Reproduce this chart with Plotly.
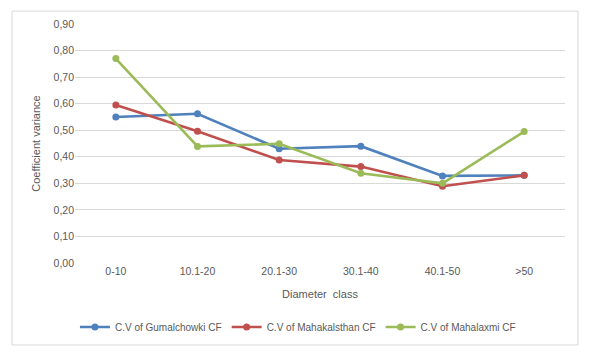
import plotly.graph_objects as go

categories = ["0-10", "10.1-20", "20.1-30", "30.1-40", "40.1-50", ">50"]
gumalchowki = [0.550, 0.562, 0.430, 0.440, 0.328, 0.330]
mahakalsthan = [0.595, 0.496, 0.388, 0.363, 0.289, 0.330]
mahalaxmi = [0.770, 0.439, 0.449, 0.338, 0.300, 0.495]
y_ticks = [0.0, 0.1, 0.2, 0.3, 0.4, 0.5, 0.6, 0.7, 0.8, 0.9]

series = [
    ("C.V of Gumalchowki CF", gumalchowki, "#4F81BD"),
    ("C.V of Mahakalsthan CF", mahakalsthan, "#C0504D"),
    ("C.V of Mahalaxmi CF", mahalaxmi, "#9BBB59"),
]

fig = go.Figure()
for name, vals, color in series:
    fig.add_trace(go.Scatter(
        x=categories, y=vals, name=name, mode="lines+markers",
        line=dict(color=color, width=2.6),
        marker=dict(color=color, size=7),
    ))

font_family = "Liberation Sans, Arial, sans-serif"
text_color = "#595959"

# page body has an 8px default margin; size the figure to compensate
fig.update_layout(
    width=581, height=349,
    margin=dict(l=67, r=24, t=16, b=94, autoexpand=False),
    paper_bgcolor="white", plot_bgcolor="white",
    separators=", ",
    font=dict(family=font_family, size=10.5, color=text_color),
    showlegend=True,
    legend=dict(orientation="h", x=0.455, xanchor="center", y=-0.268, yanchor="middle",
                font=dict(size=10, color=text_color), tracegroupgap=0, itemwidth=30),
    xaxis=dict(
        type="category", range=[-0.5, 5.5], automargin=False,
        showgrid=False, zeroline=False, showline=False,
        ticks="", tickfont=dict(size=10.5, color=text_color),
        title=dict(text="Diameter\u00a0 class", font=dict(size=11, color=text_color), standoff=14),
    ),
    yaxis=dict(
        range=[0, 0.9], tickvals=y_ticks, tickformat=".2f", automargin=False,
        showgrid=True, gridcolor="#D9D9D9", gridwidth=1,
        zeroline=False, showline=False, ticks="", ticklen=0,
        tickfont=dict(size=10.5, color=text_color),
        title=dict(text="Coefficient variance", font=dict(size=11, color=text_color), standoff=10),
    ),
)

fig.add_shape(type="rect", xref="paper", yref="paper",
              x0=-0.1286, x1=1.0265, y0=-0.343, y1=1.054,
              line=dict(color="#D9D9D9", width=1), fillcolor="rgba(0,0,0,0)", layer="below")

fig.write_html("out.html")
